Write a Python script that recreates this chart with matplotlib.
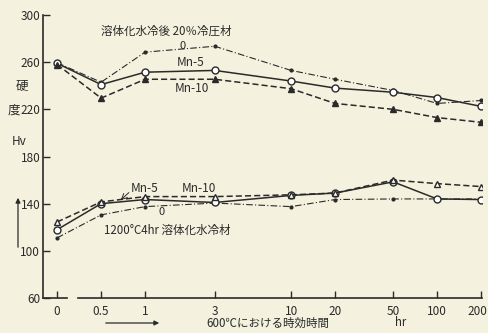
import numpy as np
import matplotlib.pyplot as plt
import matplotlib.transforms as mtransforms
from matplotlib.patches import FancyArrowPatch

plt.rcParams['font.family'] = ['Noto Sans CJK JP', 'DejaVu Sans']

# 時効時間 (hr) — "0" は対数軸上で 0.25 の位置に置く
time_labels = ['0', '0.5', '1', '3', '10', '20', '50', '100', '200']
time_pos = [0.25, 0.5, 1, 3, 10, 20, 50, 100, 200]

# 20% 冷圧材
cold_0 = [259.5, 243, 268.5, 273.5, 253, 245.5, 236, 225, 227.5]
cold_mn5 = [259, 241, 251.5, 253, 244, 238, 234.5, 230, 222.5]
cold_mn10 = [258, 229.5, 245.5, 245.5, 237.5, 225, 220, 213, 209]

# 1200°C 4hr 溶体化水冷材
sol_0 = [111, 130.5, 137.5, 140.5, 137.5, 143.5, 144, 144, 144]
sol_mn5 = [118, 140, 143.5, 141, 147, 149, 158.5, 144, 143.5]
sol_mn10 = [124.5, 141.5, 146, 146, 147.5, 149, 160, 157, 154.5]

bg = '#f4f2de'
ink = '#2a2a2a'

fig = plt.figure(figsize=(4.89, 3.33), dpi=100, facecolor=bg)
ax = fig.add_axes([43 / 489, 1 - 298 / 333, (482 - 43) / 489, (298 - 15) / 333])
ax.set_facecolor(bg)

ax.set_xscale('log')
ax.set_xlim(0.2, 203)
ax.set_ylim(60, 300)

# 冷圧材
ax.plot(time_pos, cold_0, color=ink, lw=0.8, ls=(0, (6, 2, 1, 2)), marker='o', ms=2, mfc=ink)
ax.plot(time_pos, cold_mn5, color=ink, lw=1.1, ls='-', marker='o', ms=5, mfc='white', mec=ink)
ax.plot(time_pos, cold_mn10, color=ink, lw=1.1, ls=(0, (4, 2)), marker='^', ms=4.5, mfc=ink, mec=ink)

# 溶体化材
ax.plot(time_pos, sol_0, color=ink, lw=0.8, ls=(0, (6, 2, 1, 2)), marker='o', ms=2, mfc=ink)
ax.plot(time_pos, sol_mn5, color=ink, lw=1.1, ls='-', marker='o', ms=5, mfc='white', mec=ink)
ax.plot(time_pos, sol_mn10, color=ink, lw=1.1, ls=(0, (4, 2)), marker='^', ms=5, mfc='white', mec=ink)

for s in ['top', 'right', 'bottom']:
    ax.spines[s].set_visible(False)
ax.spines['left'].set_color(ink)
ax.spines['left'].set_linewidth(1.2)

# 下の軸線（0 と 0.5 の間で切れている）
trans = mtransforms.blended_transform_factory(ax.transData, ax.transAxes)
ax.plot([0.2, 0.29], [0, 0], color=ink, lw=1.2, transform=trans, clip_on=False)
ax.plot([0.35, 203], [0, 0], color=ink, lw=1.2, transform=trans, clip_on=False)

ax.set_xticks(time_pos)
ax.set_xticklabels(time_labels)
ax.xaxis.set_minor_locator(plt.NullLocator())
ax.set_yticks([60, 100, 140, 180, 220, 260, 300])
ax.tick_params(axis='both', direction='in', length=5, width=1, color=ink,
               labelcolor=ink, labelsize=8.5)
ax.tick_params(axis='x', pad=5)
ax.tick_params(axis='y', pad=2)

# 右端の "200" が切れないよう少し左へずらす
last = ax.get_xticklabels()[-1]
last.set_transform(last.get_transform() +
                   mtransforms.ScaledTranslation(-4 / 100, 0, fig.dpi_scale_trans))

# 注記
ax.text(0.5, 283, '溶体化水冷後 20％冷圧材', fontsize=8.3, color=ink)
ax.text(1.8, 271, '0', fontsize=8, color=ink, ha='center')
ax.text(2.05, 257, 'Mn-5', fontsize=8.5, color=ink, ha='center')
ax.text(2.1, 235, 'Mn-10', fontsize=8.5, color=ink, ha='center')
ax.text(1.0, 150, 'Mn-5', fontsize=8.5, color=ink, ha='center')
ax.annotate('', xy=(0.66, 141.5), xytext=(0.8, 151),
            arrowprops=dict(arrowstyle='->', color=ink, lw=0.7))
ax.text(2.35, 150, 'Mn-10', fontsize=8.5, color=ink, ha='center')
ax.text(1.3, 130, '0', fontsize=8, color=ink, ha='center')
ax.text(0.52, 114, '1200°C4hr 溶体化水冷材', fontsize=8.3, color=ink)

# 縦軸ラベル
fig.text(22 / 489, 1 - 86 / 333, '硬', fontsize=9, color=ink, ha='center', va='center')
fig.text(14 / 489, 1 - 110 / 333, '度', fontsize=9, color=ink, ha='center', va='center')
fig.text(19 / 489, 1 - 142 / 333, 'Hv', fontsize=8.5, color=ink, ha='center', va='center')
fig.patches.append(FancyArrowPatch(
    (18 / 489, 1 - 250 / 333), (18 / 489, 1 - 195 / 333), transform=fig.transFigure,
    arrowstyle='-|>', mutation_scale=7, color=ink, lw=0.9))

# 横軸ラベル
fig.text(268 / 489, 1 - 323 / 333, '600℃における時効時間', fontsize=8.3, color=ink,
         ha='center', va='center')
fig.text(401 / 489, 1 - 323 / 333, 'hr', fontsize=8.3, color=ink, ha='center', va='center')
fig.patches.append(FancyArrowPatch(
    (103 / 489, 1 - 323 / 333), (162 / 489, 1 - 323 / 333), transform=fig.transFigure,
    arrowstyle='-|>', mutation_scale=7, color=ink, lw=0.9))

fig.savefig('out.png', dpi=100, facecolor=bg)
